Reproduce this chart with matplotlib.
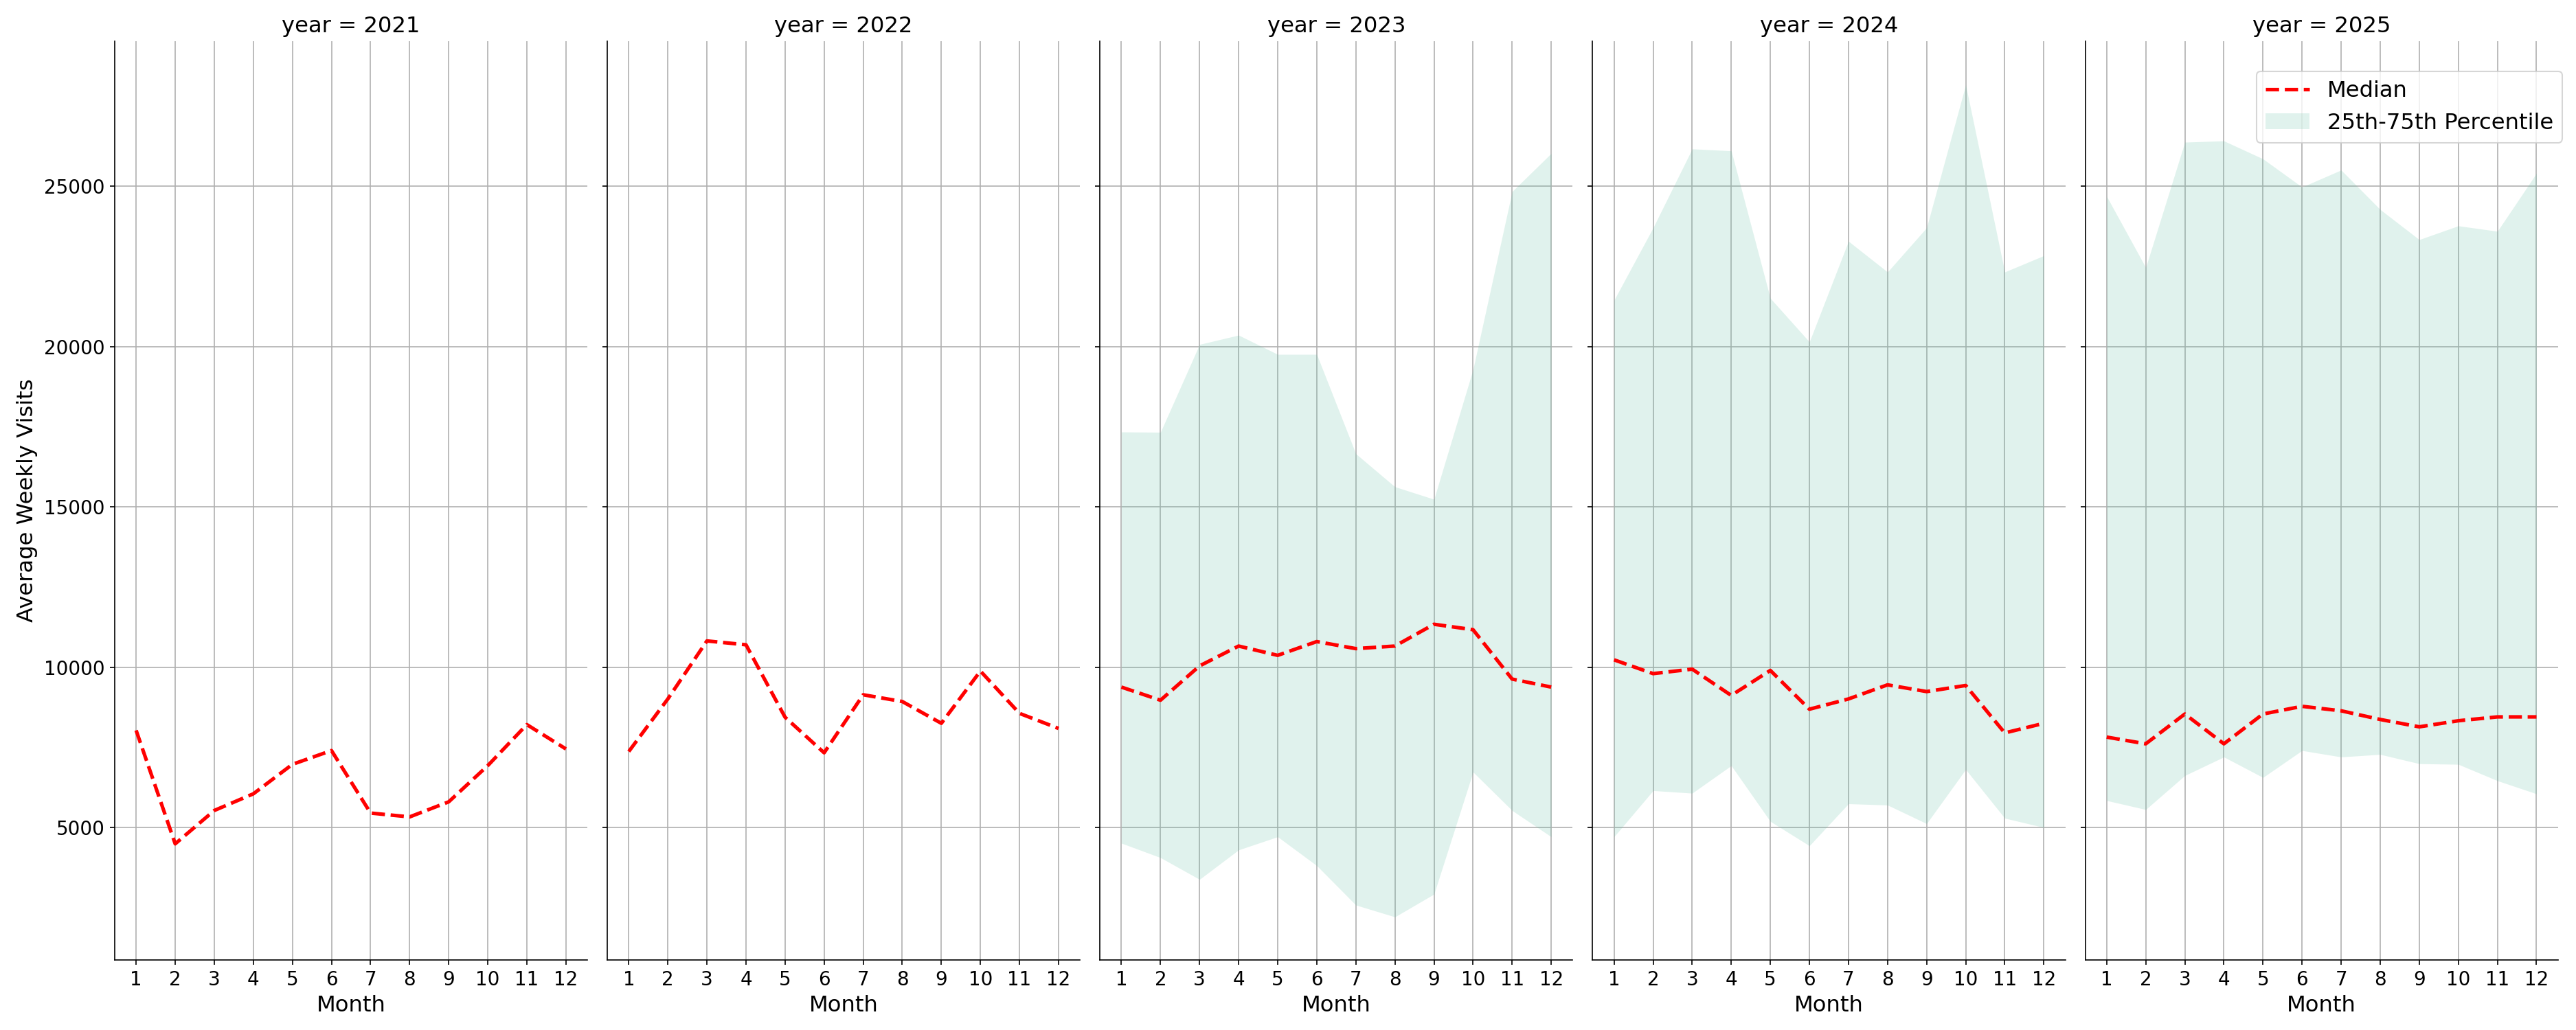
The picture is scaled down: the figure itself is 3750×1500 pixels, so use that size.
import numpy as np
import matplotlib
matplotlib.use("Agg")
import matplotlib.pyplot as plt

# monthly values
months = list(range(1, 13))
years = [2021, 2022, 2023, 2024, 2025]

median = {
    2021: [8030, 4490, 5530, 6050, 6970, 7400, 5450, 5330, 5800, 6930, 8210, 7450],
    2022: [7370, 9010, 10820, 10700, 8440, 7330, 9140, 8930, 8250, 9880, 8560, 8090],
    2023: [9380, 8970, 10040, 10660, 10370, 10800, 10580, 10660, 11340, 11170, 9630, 9380],
    2024: [10230, 9800, 9940, 9120, 9900, 8690, 9010, 9450, 9240, 9430, 7950, 8250],
    2025: [7820, 7610, 8540, 7610, 8540, 8780, 8640, 8370, 8140, 8330, 8450, 8450],
}

# percentile band only available from 2023 on
p25 = {
    2023: [4510, 4060, 3380, 4300, 4710, 3810, 2580, 2210, 2920, 6730, 5530, 4710],
    2024: [4710, 6150, 6070, 6930, 5190, 4430, 5740, 5700, 5120, 6810, 5290, 5000],
    2025: [5840, 5560, 6620, 7200, 6560, 7400, 7200, 7280, 6990, 6970, 6460, 6050],
}
p75 = {
    2023: [17340, 17330, 20070, 20360, 19760, 19760, 16660, 15630, 15240, 19290, 24840, 26030],
    2024: [21450, 23710, 26170, 26110, 21510, 20150, 23290, 22330, 23710, 28170, 22330, 22840],
    2025: [24690, 22470, 26380, 26420, 25860, 24980, 25510, 24280, 23340, 23770, 23600, 25410],
}

fig, axes = plt.subplots(1, 5, figsize=(25, 10), dpi=150, sharey=True)
fig.subplots_adjust(left=0.0445, right=0.993, bottom=0.068, top=0.96, wspace=0.042)

for ax, yr in zip(axes, years):
    ax.set_axisbelow(True)
    ax.grid(True)
    if yr in p25:
        ax.fill_between(months, p25[yr], p75[yr], color="#66c2a5", alpha=0.2,
                        linewidth=0, label="25th-75th Percentile")
    ax.plot(months, median[yr], color="red", linestyle="--", linewidth=2.5, label="Median")
    ax.set_title(f"year = {yr}", fontsize=15.5)
    ax.set_xlabel("Month", fontsize=15.5)
    ax.set_xticks(months)
    ax.tick_params(labelsize=13.3)
    ax.spines["top"].set_visible(False)
    ax.spines["right"].set_visible(False)

axes[0].set_ylabel("Average Weekly Visits", fontsize=15.5)
axes[0].set_ylim(867, 29530)
axes[0].set_yticks([5000, 10000, 15000, 20000, 25000])

handles, labels = axes[-1].get_legend_handles_labels()
order = [labels.index("Median"), labels.index("25th-75th Percentile")]
axes[-1].legend([handles[i] for i in order], [labels[i] for i in order],
                loc="upper right", bbox_to_anchor=(0.9947, 0.9307),
                bbox_transform=fig.transFigure, borderaxespad=0, fontsize=15.5)

fig.savefig("out.png")
